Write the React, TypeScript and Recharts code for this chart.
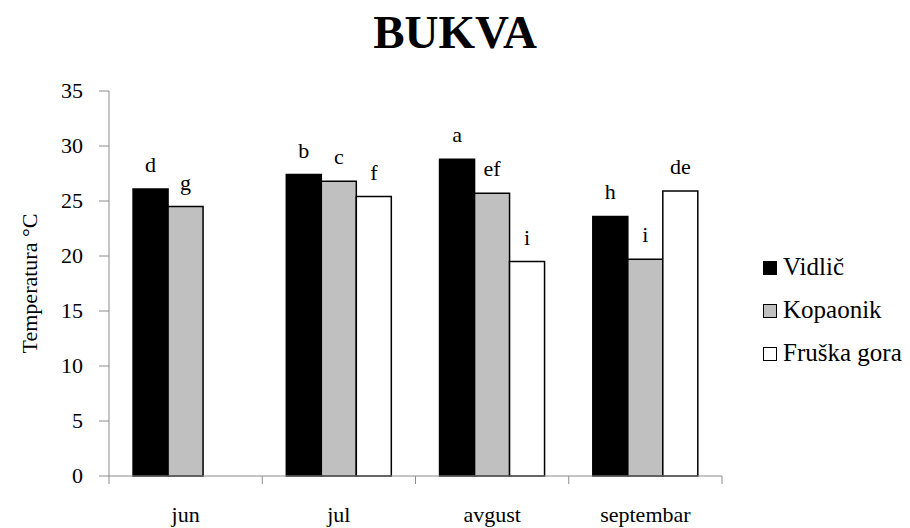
import React from 'react';
import { BarChart, Bar, XAxis, YAxis, LabelList } from 'recharts';

const months = ['jun', 'jul', 'avgust', 'septembar'];
const vidlic = [26.1, 27.4, 28.8, 23.6];
const kopaonik = [24.5, 26.8, 25.7, 19.7];
const fruskaGora = [null, 25.4, 19.5, 25.9];
const vidlicLetters = ['d', 'b', 'a', 'h'];
const kopaonikLetters = ['g', 'c', 'ef', 'i'];
const fruskaLetters = ['', 'f', 'i', 'de'];
const yTicks = [0, 5, 10, 15, 20, 25, 30, 35];

const seriesNames = ['Vidlič', 'Kopaonik', 'Fruška gora'];
const seriesFills = ['#000000', '#c0c0c0', '#ffffff'];

const data = months.map((m, i) => ({
  month: m,
  vidlic: vidlic[i],
  kopaonik: kopaonik[i],
  fruska: fruskaGora[i],
  lv: vidlicLetters[i],
  lk: kopaonikLetters[i],
  lf: fruskaLetters[i],
}));

const FONT = "'Liberation Serif'";
const AXIS = '#8c8c8c';

const MonthTick = (props: any) => {
  const { x, y, payload, index } = props;
  const off = payload?.offset ?? 0;
  return (
    <g>
      <line x1={x - off} y1={y - 8} x2={x - off} y2={y} stroke={AXIS} />
      {index === months.length - 1 && (
        <line x1={x + off} y1={y - 8} x2={x + off} y2={y} stroke={AXIS} />
      )}
      <text x={x} y={y + 38} textAnchor="middle" fontFamily={FONT} fontSize={22} fill="#000">
        {payload.value}
      </text>
    </g>
  );
};

const ValueTick = (props: any) => {
  const { x, y, payload } = props;
  return (
    <text x={x} y={y + 7} textAnchor="end" fontFamily={FONT} fontSize={22} fill="#000">
      {payload.value}
    </text>
  );
};

const LetterLabel = (props: any) => {
  const { x, y, width, value } = props;
  if (!value) return null;
  return (
    <text x={x + width / 2} y={y - 17} textAnchor="middle" fontFamily={FONT} fontSize={22} fill="#000">
      {value}
    </text>
  );
};

const YTitle = (props: any) => {
  const { viewBox } = props;
  const cx = 29;
  const cy = viewBox.y + viewBox.height / 2;
  return (
    <text
      x={cx}
      y={cy}
      transform={`rotate(-90, ${cx}, ${cy})`}
      textAnchor="middle"
      dominantBaseline="central"
      fontFamily={FONT}
      fontSize={22}
      fill="#000"
    >
      Temperatura °C
    </text>
  );
};

const LegendBox = () => (
  <div
    style={{
      position: 'absolute',
      left: 763,
      top: 245,
      fontFamily: FONT,
      fontSize: 25,
      color: '#000',
      lineHeight: '43px',
    }}
  >
    {seriesNames.map((n, i) => (
      <div key={n} style={{ whiteSpace: 'nowrap' }}>
        <span
          style={{
            display: 'inline-block',
            width: 12,
            height: 12,
            background: seriesFills[i],
            border: '1px solid #000',
            marginRight: 6,
          }}
        />
        <span>{n}</span>
      </div>
    ))}
  </div>
);

export default function App() {
  return (
    <div style={{ position: 'absolute', left: 0, top: 0, width: 910, height: 528, background: '#fff', fontFamily: FONT }}>
      <div
        style={{
          position: 'absolute',
          left: 0,
          width: 910,
          top: 5,
          textAlign: 'center',
          fontFamily: FONT,
          fontWeight: 'bold',
          fontSize: 47,
          lineHeight: 'normal',
          color: '#000',
        }}
      >
        BUKVA
      </div>
      <BarChart
        width={910}
        height={528}
        data={data}
        margin={{ top: 91, right: 188, bottom: 0, left: 0 }}
        barCategoryGap="15.7%"
        barGap={0}
      >
        <XAxis
          dataKey="month"
          height={52}
          stroke={AXIS}
          tickLine={false}
          tick={<MonthTick />}
          interval={0}
        />
        <YAxis
          width={109}
          domain={[0, 35]}
          ticks={yTicks}
          stroke={AXIS}
          tickSize={10}
          tickMargin={16}
          tick={<ValueTick />}
          label={<YTitle />}
        />
        <Bar dataKey="vidlic" name={seriesNames[0]} fill={seriesFills[0]} stroke="#000" strokeWidth={1.5} isAnimationActive={false}>
          <LabelList dataKey="lv" content={<LetterLabel />} />
        </Bar>
        <Bar dataKey="kopaonik" name={seriesNames[1]} fill={seriesFills[1]} stroke="#000" strokeWidth={1.5} isAnimationActive={false}>
          <LabelList dataKey="lk" content={<LetterLabel />} />
        </Bar>
        <Bar dataKey="fruska" name={seriesNames[2]} fill={seriesFills[2]} stroke="#000" strokeWidth={1.5} isAnimationActive={false}>
          <LabelList dataKey="lf" content={<LetterLabel />} />
        </Bar>
      </BarChart>
      <LegendBox />
    </div>
  );
}
